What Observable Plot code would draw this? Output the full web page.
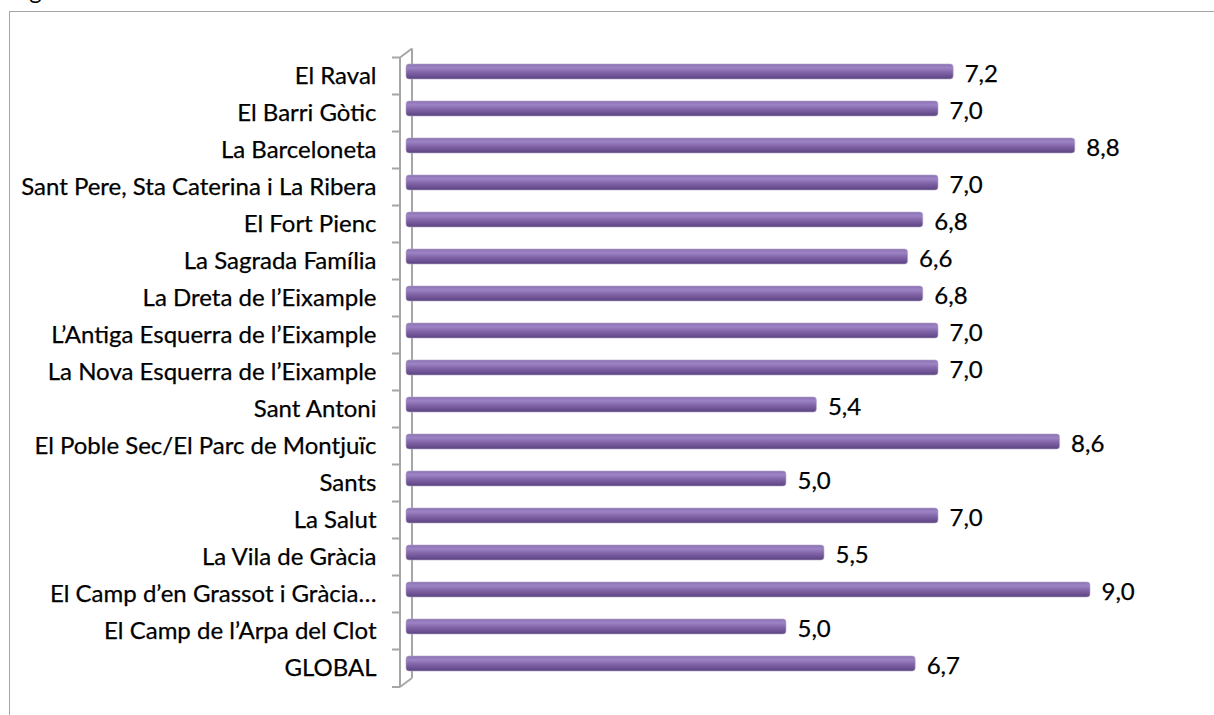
<!DOCTYPE html>
<html>
<head>
<meta charset="utf-8">
<script src="https://cdn.jsdelivr.net/npm/d3@7"></script>
<script src="https://cdn.jsdelivr.net/npm/@observablehq/plot@0.6"></script>
<style>
  html, body { margin: 0; padding: 0; background: #fff; }
  #wrap { position: relative; width: 1214px; height: 715px; overflow: hidden; font-family: Lato, "Open Sans", sans-serif; }
  #frame { position: absolute; left: 9px; top: 11px; width: 1300px; height: 800px; border: 1.5px solid #a6a6a6; box-sizing: border-box; }
  #fig { position: absolute; left: 10px; top: -25px; font-size: 24px; line-height: 29px; color: #000; }
  #chart { position: absolute; left: 0; top: 0; }
</style>
</head>
<body>
<div id="wrap">
  <div id="fig">Fig</div>
  <div id="frame"></div>
  <div id="chart"></div>
</div>
<script>
const districts = [
  "El Raval",
  "El Barri Gòtic",
  "La Barceloneta",
  "Sant Pere, Sta Caterina i La Ribera",
  "El Fort Pienc",
  "La Sagrada Família",
  "La Dreta de l’Eixample",
  "L’Antiga Esquerra de l’Eixample",
  "La Nova Esquerra de l’Eixample",
  "Sant Antoni",
  "El Poble Sec/El Parc de Montjuïc",
  "Sants",
  "La Salut",
  "La Vila de Gràcia",
  "El Camp d’en Grassot i Gràcia…",
  "El Camp de l’Arpa del Clot",
  "GLOBAL"
];
const scores = [7.2, 7.0, 8.8, 7.0, 6.8, 6.6, 6.8, 7.0, 7.0, 5.4, 8.6, 5.0, 7.0, 5.5, 9.0, 5.0, 6.7];
const valueLabels = ["7,2","7,0","8,8","7,0","6,8","6,6","6,8","7,0","7,0","5,4","8,6","5,0","7,0","5,5","9,0","5,0","6,7"];

const data = districts.map((d, i) => ({district: d, value: scores[i], label: valueLabels[i]}));

const W = 1214, H = 715;
const mTop = 48.5, mBottom = 28.5;
const step = (H - mTop - mBottom) / districts.length;
const FONT = "Lato, 'Open Sans', sans-serif";

const plot = Plot.plot({
  width: W,
  height: H,
  marginLeft: 406,
  marginRight: 48,
  marginTop: mTop,
  marginBottom: mBottom,
  style: {fontFamily: FONT, background: "transparent"},
  x: {domain: [0, 10], axis: null},
  y: {domain: districts, padding: 0, axis: null},
  marks: [
    Plot.barX(data, {x: "value", y: "district", fill: "url(#cyl)", insetTop: 11, insetBottom: 11, rx: 3, stroke: "#b3a8c6", strokeWidth: 0.6}),
    Plot.text(data, {x: 0, y: "district", text: "district", textAnchor: "end", dx: -30, dy: 4.5, fontSize: 24, fill: "#000", stroke: "#000", strokeWidth: 0.25}),
    Plot.text(data, {x: "value", y: "district", text: "label", textAnchor: "start", dx: 11, dy: 2.5, fontSize: 24, fill: "#000", stroke: "#000", strokeWidth: 0.25})
  ]
});

const svg = d3.select(plot);
const defs = svg.insert("defs", ":first-child");
const grad = defs.append("linearGradient").attr("id", "cyl").attr("x1", 0).attr("x2", 0).attr("y1", 0).attr("y2", 1);
[[0, "#8c70b4"], [0.25, "#9c84c4"], [0.55, "#8264a8"], [0.85, "#684e8f"], [1, "#58427e"]].forEach(([o, c]) => grad.append("stop").attr("offset", o).attr("stop-color", c));

// 3D wall (front line, back line, diagonals, ticks) positioned from Plot's scales
const xs = plot.scale("x"), ys = plot.scale("y");
const x0 = xs.apply(0);
const yTop = ys.apply(districts[0]);
const yBot = ys.apply(districts[districts.length - 1]) + step;
const depthX = 6, depthY = 4.5;
let d = `M${x0 - depthX},${yTop + depthY} L${x0 - depthX},${yBot + depthY}`;
d += ` M${x0 + depthX},${yTop - depthY} L${x0 + depthX},${yBot - depthY}`;
d += ` M${x0 - depthX},${yTop + depthY} L${x0 + depthX},${yTop - depthY}`;
d += ` M${x0 - depthX},${yBot + depthY} L${x0 + depthX},${yBot - depthY}`;
districts.forEach(c => {
  const y = ys.apply(c) + depthY;
  d += ` M${x0 - depthX - 8},${y} L${x0 - depthX},${y}`;
});
d += ` M${x0 - depthX - 8},${yBot + depthY} L${x0 - depthX},${yBot + depthY}`;
svg.insert("path", "g").attr("d", d).attr("stroke", "#a6a6a6").attr("stroke-width", 2).attr("fill", "none");

document.getElementById("chart").appendChild(plot);
</script>
</body>
</html>
